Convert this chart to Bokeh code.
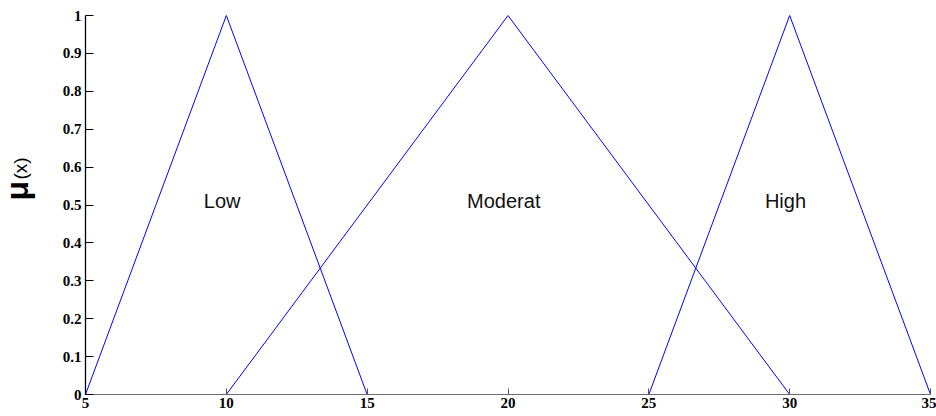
from bokeh.plotting import figure
from bokeh.models import Label, FixedTicker, Range1d
from bokeh.embed import file_html
from bokeh.resources import INLINE
import math

# data
low_x = [5, 10, 15]
low_y = [0, 1, 0]
mod_x = [10, 20, 30]
mod_y = [0, 1, 0]
high_x = [25, 30, 35]
high_y = [0, 1, 0]

set_names = ["Low", "Moderat", "High"]
set_label_x = [9.85, 19.85, 29.85]
set_label_y = [0.51, 0.51, 0.51]

x_ticks = [5, 10, 15, 20, 25, 30, 35]
y_ticks = [0, 0.1, 0.2, 0.3, 0.4, 0.5, 0.6, 0.7, 0.8, 0.9, 1]
y_tick_labels = ["0", "0.1", "0.2", "0.3", "0.4", "0.5", "0.6", "0.7", "0.8", "0.9", "1"]

X_MIN, X_MAX = 5, 35
Y_MIN, Y_MAX = 0, 1

# layout (pixels)
W, H = 936, 416
AX_LEFT, AX_RIGHT = 85, 930          # where x=5 and x=35 sit
AX_TOP, AX_BOTTOM = 15, 394          # where y=1 and y=0 sit
kx = (AX_RIGHT - AX_LEFT) / (X_MAX - X_MIN)
ky = (AX_BOTTOM - AX_TOP) / (Y_MAX - Y_MIN)
x_start = X_MIN - AX_LEFT / kx
x_end = X_MAX + (W - AX_RIGHT) / kx
y_start = Y_MIN - (H - AX_BOTTOM) / ky
y_end = Y_MAX + AX_TOP / ky

p = figure(width=W, height=H, output_backend="svg", toolbar_location=None,
           x_range=Range1d(x_start, x_end), y_range=Range1d(y_start, y_end),
           min_border=0)

p.outline_line_color = None
p.grid.visible = False
p.background_fill_color = "white"
p.border_fill_color = "white"

for xs, ys in [(low_x, low_y), (mod_x, mod_y), (high_x, high_y)]:
    p.line(xs, ys, line_color="#0000ff", line_width=1)

for name, lx, ly in zip(set_names, set_label_x, set_label_y):
    p.add_layout(Label(x=lx, y=ly, text=name, text_align="center", text_baseline="middle",
                       text_font="Liberation Sans", text_font_size="20px", text_color="#111111"))

# axes (drawn at fixed data locations inside the frame)
p.xaxis.ticker = FixedTicker(ticks=x_ticks)
p.yaxis.ticker = FixedTicker(ticks=y_ticks)
p.yaxis.major_label_overrides = {t: s for t, s in zip(y_ticks, y_tick_labels)}
p.xaxis.bounds = (X_MIN, X_MAX)
p.yaxis.bounds = (Y_MIN, Y_MAX)
p.xaxis.fixed_location = Y_MIN
p.yaxis.fixed_location = X_MIN
for ax in (p.xaxis[0], p.yaxis[0]):
    ax.minor_tick_line_color = None
    ax.major_tick_in = 8
    ax.major_tick_out = 0
    ax.major_label_text_font = "Liberation Serif"
    ax.major_label_text_font_style = "bold"
    ax.major_label_text_font_size = "15px"
    ax.major_label_text_color = "black"
    ax.major_tick_line_color = "black"
p.yaxis.axis_line_color = "black"
p.yaxis.axis_line_width = 1.3
p.yaxis.major_label_standoff = 4
p.xaxis.axis_line_color = "#6e6e6e"
p.xaxis.major_tick_line_color = "#555555"
p.xaxis.major_tick_in = 6
p.xaxis.major_label_standoff = 3

# y axis label: mu(x), rotated, in screen units relative to the plot frame
p.add_layout(Label(x=16, y=H - 200, x_units="screen", y_units="screen", text="μ",
                   angle=math.pi / 2, text_align="left", text_baseline="alphabetic",
                   text_font="Liberation Sans", text_font_style="bold",
                   text_font_size="32px", text_color="black"))
p.add_layout(Label(x=20, y=H - 179, x_units="screen", y_units="screen", text="(x)",
                   angle=math.pi / 2, text_align="left", text_baseline="alphabetic",
                   text_font="Liberation Sans", text_font_size="19px", text_color="black"))

open("out.html", "w").write(file_html(p, INLINE))
